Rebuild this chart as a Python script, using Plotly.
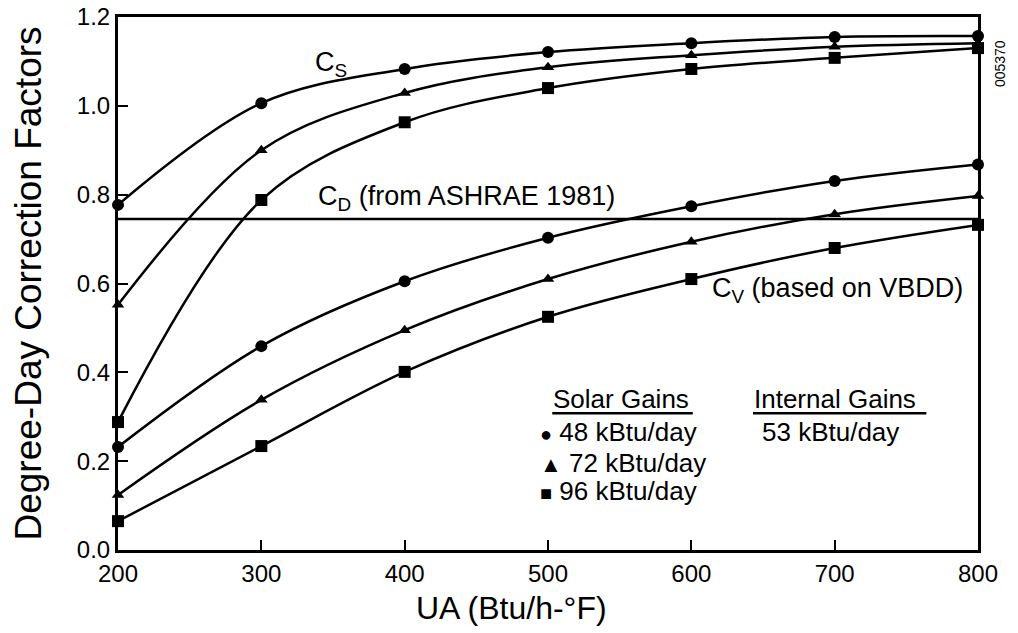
import plotly.graph_objects as go

ua = [200, 300, 400, 500, 600, 700, 800]

# C_S curves (upper family)
cs_48 = [0.777, 1.006, 1.083, 1.121, 1.141, 1.155, 1.157]
cs_72 = [0.552, 0.900, 1.029, 1.087, 1.114, 1.133, 1.141]
cs_96 = [0.288, 0.788, 0.963, 1.040, 1.083, 1.108, 1.130]

# C_V curves (lower family, based on VBDD)
cv_48 = [0.232, 0.459, 0.605, 0.703, 0.774, 0.831, 0.868]
cv_72 = [0.124, 0.338, 0.495, 0.610, 0.694, 0.756, 0.797]
cv_96 = [0.065, 0.234, 0.401, 0.525, 0.610, 0.680, 0.732]

# C_D (from ASHRAE 1981)
cd_value = 0.745

x_ticks = [200, 300, 400, 500, 600, 700, 800]
y_ticks = [0.0, 0.2, 0.4, 0.6, 0.8, 1.0, 1.2]

FONT = "Liberation Sans, Arial, Helvetica, sans-serif"

fig = go.Figure()

series = [
    (cs_48, "circle"), (cs_72, "triangle-up"), (cs_96, "square"),
    (cv_48, "circle"), (cv_72, "triangle-up"), (cv_96, "square"),
]
for ys, sym in series:
    fig.add_trace(go.Scatter(
        x=ua, y=ys, mode="lines+markers",
        line=dict(color="black", width=2.5, shape="spline", smoothing=1.0),
        marker=dict(symbol=sym, size=12 if sym != "triangle-up" else 11, color="black"),
        cliponaxis=False, showlegend=False, hoverinfo="x+y",
    ))

fig.add_trace(go.Scatter(
    x=[ua[0], ua[-1]], y=[cd_value, cd_value], mode="lines",
    line=dict(color="black", width=2.5), showlegend=False, cliponaxis=False,
))

ann = []
def text(x, y, t, size=26, xanchor="left", **kw):
    ann.append(dict(x=x, y=y, xref="x", yref="y", text=t, showarrow=False,
                    xanchor=xanchor, yanchor="middle",
                    font=dict(family=FONT, size=size, color="black"), **kw))

text(336, 1.094, "C<sub>S</sub>", size=27)
text(338, 0.792, "C<sub>D</sub> (from ASHRAE 1981)", size=27)
text(613, 0.585, "C<sub>V</sub> (based on VBDD)", size=27)
text(502, 0.340, "Solar Gains")
text(642, 0.340, "Internal Gains")
text(648, 0.266, "53 kBtu/day")
text(493, 0.266, "<span style='font-size:20px'>●</span> 48 kBtu/day")
text(493, 0.195, "<span style='font-size:22px'>▲</span> 72 kBtu/day")
text(493, 0.133, "<span style='font-size:20px'>■</span> 96 kBtu/day")

ann.append(dict(x=1.037, y=0.961, xref="paper", yref="paper", text="005370",
                showarrow=False, textangle=-90,
                font=dict(family=FONT, size=14, color="black")))
ann.append(dict(x=0.457, y=-0.108, xref="paper", yref="paper", text="UA (Btu/h-°F)",
                showarrow=False, xanchor="center", yanchor="middle",
                font=dict(family=FONT, size=32, color="black")))

fig.update_layout(
    width=1018, height=633,
    margin=dict(l=118, r=40, t=17, b=83),
    paper_bgcolor="white", plot_bgcolor="white",
    annotations=ann,
    shapes=[
        dict(type="line", xref="x", yref="y", x0=503, x1=601, y0=0.308, y1=0.308,
             line=dict(color="black", width=2.5)),
        dict(type="line", xref="x", yref="y", x0=643, x1=764, y0=0.308, y1=0.308,
             line=dict(color="black", width=2.5)),
    ],
    xaxis=dict(
        range=[200, 800], tickvals=x_ticks, ticktext=[str(v) for v in x_ticks],
        showgrid=False, zeroline=False, showline=True, linecolor="black",
        linewidth=3, mirror=True, ticks="inside", ticklen=10, tickwidth=1.5,
        tickcolor="black", tickfont=dict(family=FONT, size=24, color="black"),
        automargin=False, ticklabeloverflow="allow",
    ),
    yaxis=dict(
        range=[0, 1.2], tickvals=y_ticks, ticktext=[f"{v:.1f}" for v in y_ticks],
        showgrid=False, zeroline=False, showline=True, linecolor="black",
        linewidth=3, mirror=True, ticks="inside", ticklen=10, tickwidth=1.5,
        tickcolor="black", tickfont=dict(family=FONT, size=24, color="black"),
        automargin=False, ticklabeloverflow="allow",
        title=dict(text="Degree-Day Correction Factors",
                   font=dict(family=FONT, size=37, color="black"), standoff=24),
    ),
)

fig.write_html(
    "out.html",
    config={"displayModeBar": False},
    post_script="document.body.style.margin='0';document.body.style.overflow='hidden';",
)
